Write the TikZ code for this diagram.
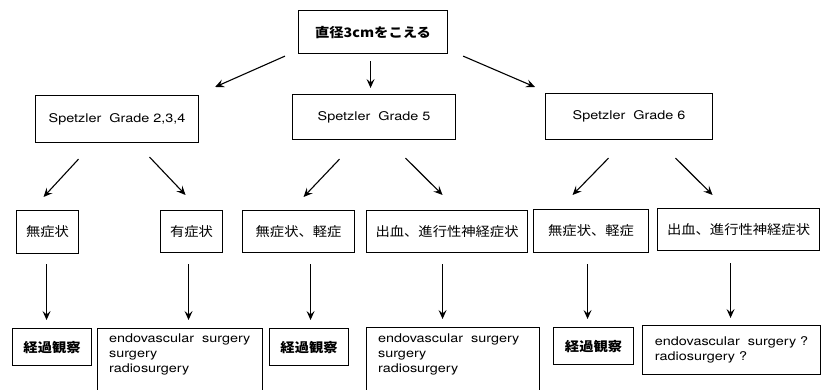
\documentclass[tikz,border=0pt]{standalone}
\usepackage{fontspec}
\setmainfont{TeX Gyre Heros}[FakeStretch=1.2]
\newfontfamily\jp{Noto Sans CJK JP}[FakeStretch=1.1]
\usetikzlibrary{arrows.meta,calc}
\tikzset{
  box/.style={draw, line width=1.1pt, inner sep=0pt, anchor=north west,
    font=\fontsize{12}{15}\selectfont},
  jbox/.style={box, font=\fontsize{13}{15}\selectfont\jp},
  arr/.style={line width=1.1pt, -{Stealth[length=9pt,width=8pt,inset=3.5pt]}}
}
\begin{document}
\begin{tikzpicture}[x=1pt,y=-1pt]
\useasboundingbox (0,0) rectangle (821,390);
\clip (0,0) rectangle (821,390);
\fill[white] (0,0) rectangle (821,390);
% level 1
\node[jbox, minimum width=149pt, minimum height=43pt] (top) at (298,10) {\bfseries 直径3cmをこえる};
% level 2
\node[box, minimum width=163pt, minimum height=47pt] (g234) at (35,95) {Spetzler\ \ Grade 2,3,4};
\node[box, minimum width=163pt, minimum height=45pt] (g5) at (292,94) {Spetzler\ \ Grade 5\hspace{10pt}};
\node[box, minimum width=167pt, minimum height=46pt] (g6) at (545,93) {Spetzler\ \ Grade 6\hspace{10pt}};
% level 3
\node[jbox, minimum width=62pt, minimum height=43pt] (a1) at (16,210) {無症状};
\node[jbox, minimum width=62pt, minimum height=42pt] (a2) at (160,210) {有症状};
\node[jbox, minimum width=112pt, minimum height=42pt] (b1) at (242,210) {無症状、軽症};
\node[jbox, minimum width=161pt, minimum height=42pt] (b2) at (366,210) {出血、進行性神経症状};
\node[jbox, minimum width=115pt, minimum height=43pt] (c1) at (533,209) {無症状、軽症};
\node[jbox, minimum width=162pt, minimum height=42pt] (c2) at (657,208) {出血、進行性神経症状};
% level 4
\node[jbox, minimum width=79pt, minimum height=37pt] (d1) at (12,328) {\bfseries 経過観察};
\node[box, inner xsep=11.5pt, inner ysep=5pt] (d2) at (97,328)
  {\parbox[t][80pt][t]{142pt}{endovascular\ \ surgery\\surgery\\radiosurgery}};
\node[jbox, minimum width=79pt, minimum height=37pt] (e1) at (269,328) {\bfseries 経過観察};
\node[box, inner xsep=11.5pt, inner ysep=6pt] (e2) at (366,327)
  {\parbox[t][80pt][t]{150pt}{endovascular\ \ surgery\\surgery\\radiosurgery}};
\node[jbox, minimum width=80pt, minimum height=37pt] (f1) at (553,327) {\bfseries 経過観察};
\node[box, minimum width=178pt, minimum height=49pt, align=left] (f2) at (642,325)
  {endovascular\ \ surgery ?\\radiosurgery ?};
% arrows level 1 -> 2
\draw[arr] ($(top.south west)+(-13,2)$) -- ($(g234.north east)+(16,-8)$);
\draw[arr] ($(top.south)+(-2.5,7)$) -- ($(g5.north)+(-3.5,-6)$);
\draw[arr] ($(top.south east)+(15,2)$) -- ($(g6.north west)+(-10,-6)$);
% arrows level 2 -> 3
\draw[arr] ($(g234.south)+(-38.5,16)$) -- ($(a1.north)+(-4,-13)$);
\draw[arr] ($(g234.south)+(32.5,14)$) -- ($(a2.north)+(-6,-15)$);
\draw[arr] ($(g5.south)+(-34.5,19)$) -- ($(b1.north)+(5,-13)$);
\draw[arr] ($(g5.south)+(31.5,18)$) -- ($(b2.north)+(-4.5,-15)$);
\draw[arr] ($(g6.south)+(-20.5,18)$) -- ($(c1.north)+(-18.5,-14)$);
\draw[arr] ($(g6.south)+(46.5,18)$) -- ($(c2.north)+(-26,-13)$);
% arrows level 3 -> 4
\draw[arr] ($(a1.south)+(-1,10)$) -- ($(a1.south |- d1.north)+(-1,-8)$);
\draw[arr] ($(a2.south)+(-3,11)$) -- ($(a2.south |- d2.north)+(-3,-8)$);
\draw[arr] ($(b1.south)+(12,11)$) -- ($(b1.south |- e1.north)+(12,-8)$);
\draw[arr] ($(b2.south)+(-4.5,11)$) -- ($(b2.south |- e2.north)+(-4.5,-8)$);
\draw[arr] ($(c1.south)+(-3.5,11)$) -- ($(c1.south |- f1.north)+(-3.5,-8)$);
\draw[arr] ($(c2.south)+(-8,12)$) -- ($(c2.south |- f2.north)+(-8,-7)$);
\end{tikzpicture}
\end{document}
